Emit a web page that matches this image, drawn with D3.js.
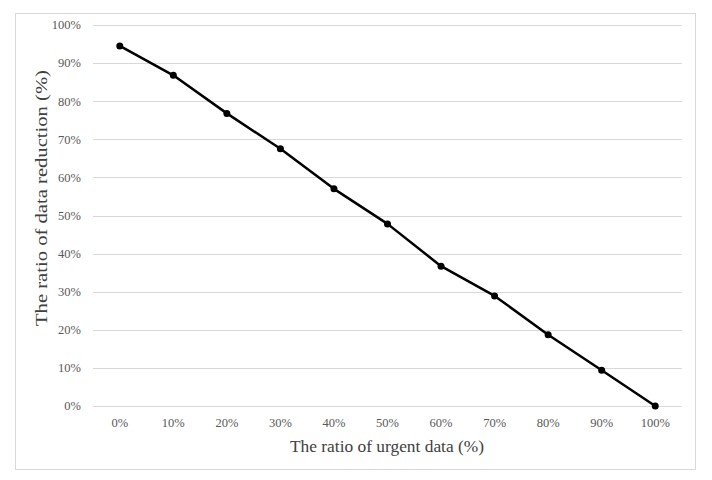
<!DOCTYPE html>
<html><head><meta charset="utf-8">
<script src="https://cdn.jsdelivr.net/npm/d3@7"></script>
<style>body{margin:0;background:#fff}</style>
</head><body><svg id="c" width="712" height="480"></svg>
<script>
const categories = ["0%","10%","20%","30%","40%","50%","60%","70%","80%","90%","100%"];
const values = [94.5, 86.8, 76.8, 67.5, 57.0, 47.8, 36.7, 28.9, 18.7, 9.4, 0];
const yTicks = [0,10,20,30,40,50,60,70,80,90,100];

const svg = d3.select("#c");
svg.append("rect").attr("x",15.5).attr("y",13.5).attr("width",680).attr("height",456)
  .attr("fill","#fff").attr("stroke","#d9d9d9");
const L=93,R=682,T=25,B=406;
const x = d3.scalePoint().domain(categories).range([L,R]).padding(0.5);
const y = d3.scaleLinear().domain([0,100]).range([B,T]);
const font = "'Liberation Serif', 'DejaVu Serif', serif";

svg.append("g").selectAll("line").data(yTicks).join("line")
  .attr("x1",L).attr("x2",R).attr("y1",d=>Math.round(y(d))+0.5).attr("y2",d=>Math.round(y(d))+0.5)
  .attr("stroke","#d9d9d9").attr("stroke-width",1);
svg.append("g").selectAll("text").data(yTicks).join("text")
  .attr("x",81).attr("y",d=>y(d)).attr("dy","0.35em").attr("text-anchor","end")
  .attr("font-family",font).attr("font-size",12.5).attr("fill","#595959").text(d=>d+"%");
svg.append("g").selectAll("text").data(categories).join("text")
  .attr("x",d=>x(d)).attr("y",427).attr("text-anchor","middle")
  .attr("font-family",font).attr("font-size",12.5).attr("fill","#595959").text(d=>d);

const line = d3.line().x((d,i)=>x(categories[i])).y(d=>y(d));
svg.append("path").datum(values).attr("d",line).attr("fill","none")
  .attr("stroke","#000").attr("stroke-width",2.5).attr("stroke-linejoin","round");
svg.append("g").selectAll("circle").data(values).join("circle")
  .attr("cx",(d,i)=>x(categories[i])).attr("cy",d=>y(d)).attr("r",3.5).attr("fill","#000");

svg.append("text").attr("x",387).attr("y",452).attr("text-anchor","middle")
  .attr("textLength",194).attr("lengthAdjust","spacingAndGlyphs")
  .attr("font-family",font).attr("font-size",17).attr("fill","#404040").text("The ratio of urgent data (%)");
svg.append("text").attr("transform","translate(47,198) rotate(-90)").attr("text-anchor","middle")
  .attr("textLength",256).attr("lengthAdjust","spacingAndGlyphs")
  .attr("font-family",font).attr("font-size",17.5).attr("fill","#404040").text("The ratio of data reduction (%)");
</script></body></html>
